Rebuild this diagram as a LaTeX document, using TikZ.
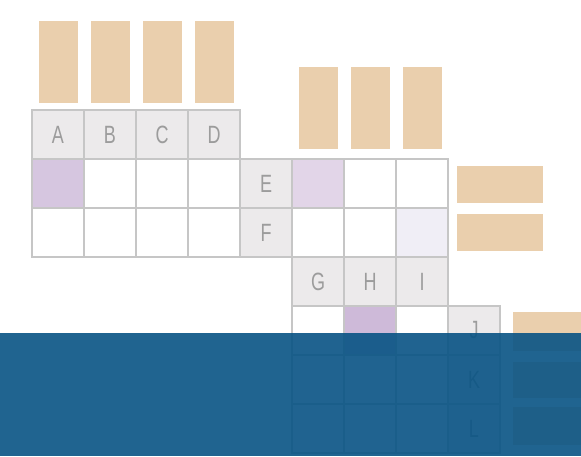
\documentclass[tikz,border=0pt]{standalone}
\usepackage{fontspec}
\setmainfont{Liberation Sans}
\definecolor{beige}{HTML}{EACFAD}
\definecolor{hdr}{HTML}{ECEAEB}
\definecolor{gline}{HTML}{C6C6C6}
\definecolor{pA}{HTML}{D6C6E0}
\definecolor{pB}{HTML}{E2D5E8}
\definecolor{pC}{HTML}{F0EEF6}
\definecolor{pD}{HTML}{CEBAD9}
\definecolor{ltxt}{HTML}{9C9C9C}
\definecolor{veil}{HTML}{085384}
\begin{document}
\begin{tikzpicture}[x=1pt,y=-1pt,
  cell/.style={draw=gline,line width=2pt,fill=white,minimum width=52pt,minimum height=49pt,
    inner sep=0pt,outer sep=0pt,anchor=north west,font=\fontsize{25}{25}\selectfont,text=ltxt},
  head/.style={cell,fill=hdr},
  vbar/.style={fill=beige,draw=none,minimum width=39pt,minimum height=82pt,inner sep=0pt,anchor=south},
  hbar/.style={fill=beige,draw=none,minimum width=86pt,minimum height=37pt,inner sep=0pt,anchor=west}]
\useasboundingbox (0,0) rectangle (581,456);
\clip (0,0) rectangle (581,456);
% block 1 top bars
\foreach \i in {0,...,3}{\node[vbar] (t\i) at ({58+52*\i},103) {};}
% block 1 header
\foreach \i/\l in {0/A,1/B,2/C,3/D}{\node[head] (h\i) at ({32+52*\i},110) {\scalebox{0.72}[1]{\l}};}
% block 1 body
\foreach \i in {0,...,3}{\node[cell] (r1c\i) at ({32+52*\i},159) {};
  \node[cell] (r2c\i) at ({32+52*\i},208) {};}
\node[cell,fill=pA] (r1c0b) at (32,159) {};
% E F
\node[head] (hE) at (240,159) {\scalebox{0.72}[1]{E}};
\node[head] (hF) at (240,208) {\scalebox{0.72}[1]{F}};
% block 2 top bars
\foreach \i in {5,6,7}{\node[vbar] (t\i) at ({58+52*\i},149) {};}
% block 2 body
\foreach \i in {5,6,7}{\node[cell] (r1c\i) at ({32+52*\i},159) {};
  \node[cell] (r2c\i) at ({32+52*\i},208) {};}
\node[cell,fill=pB] (r1c5b) at (292,159) {};
\node[cell,fill=pC] (r2c7b) at (396,208) {};
% right bars block 2
\node[hbar] (b1) at (457,184) {};
\node[hbar] (b2) at (457,232) {};
% G H I
\foreach \i/\l in {5/G,6/H,7/I}{\node[head] (h\i) at ({32+52*\i},257) {\scalebox{0.72}[1]{\l}};}
% block 3 body
\foreach \i in {5,6,7}{\node[cell] (r4c\i) at ({32+52*\i},306) {};
  \node[cell] (r5c\i) at ({32+52*\i},355) {};
  \node[cell] (r6c\i) at ({32+52*\i},404) {};}
\node[cell,fill=pD] (r4c6b) at (344,306) {};
% J K L
\node[head] (hJ) at (448,306) {\scalebox{0.72}[1]{J}};
\node[head] (hK) at (448,355) {\scalebox{0.72}[1]{K}};
\node[head] (hL) at (448,404) {\scalebox{0.72}[1]{L}};
% right bars block 3
\node[hbar,minimum height=39pt] (b4) at (513,331) {};
\node[hbar,minimum height=36pt] (b5) at (513,380) {};
\node[hbar,minimum height=38pt] (b6) at (513,426) {};
% overlay
\fill[veil,opacity=0.9] (0,333) rectangle (581,456);
\end{tikzpicture}
\end{document}
